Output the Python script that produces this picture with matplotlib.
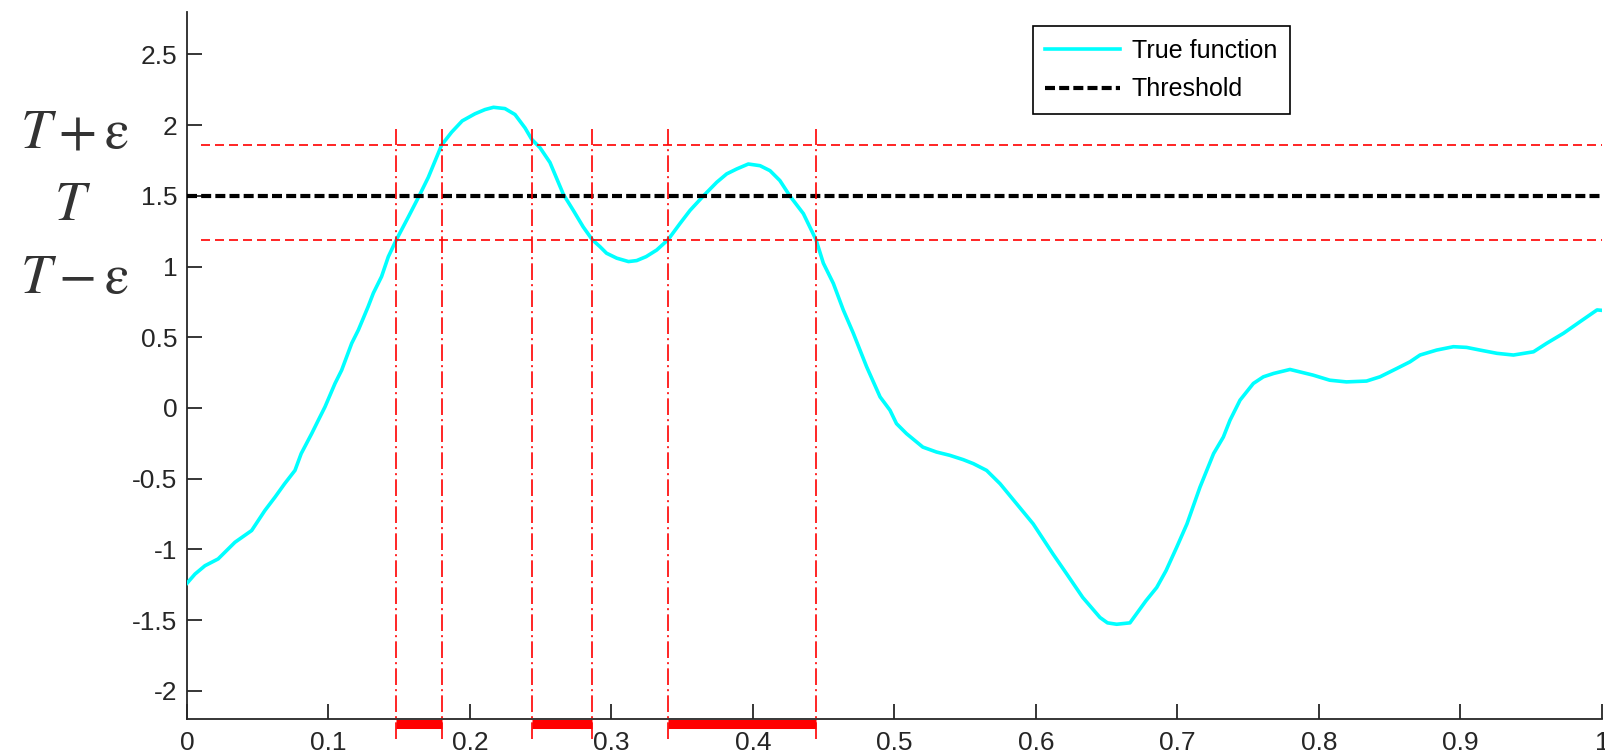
import matplotlib
matplotlib.use("Agg")
import matplotlib.pyplot as plt

# sampled true function
fx = [0.0, 0.00565, 0.0127, 0.022, 0.0339, 0.0457, 0.055, 0.0622, 0.069, 0.0763,
      0.0807, 0.0881, 0.0928, 0.0975, 0.1046, 0.1093, 0.1164, 0.1211, 0.128, 0.1317,
      0.1375, 0.1423, 0.148, 0.1564, 0.1636, 0.1705, 0.180, 0.187, 0.1945, 0.2035,
      0.2106, 0.2166, 0.2247, 0.2318, 0.2389, 0.2436, 0.2495, 0.2565, 0.266, 0.273,
      0.280, 0.2864, 0.2919, 0.2965, 0.3037, 0.312, 0.3178, 0.3245, 0.332, 0.340,
      0.3484, 0.3555, 0.365, 0.3744, 0.3814, 0.3885, 0.3967, 0.405, 0.412, 0.419,
      0.426, 0.4356, 0.4445, 0.4497, 0.4568, 0.4638, 0.4709, 0.4803, 0.4898, 0.4968,
      0.5014, 0.5085, 0.520, 0.5297, 0.539, 0.5486, 0.5557, 0.5651, 0.5746, 0.5863,
      0.598, 0.612, 0.6217, 0.633, 0.6452, 0.6505, 0.657, 0.6664, 0.6777, 0.6853,
      0.6919, 0.6994, 0.7067, 0.7159, 0.7255, 0.7324, 0.7371, 0.7442, 0.7536, 0.7607,
      0.768, 0.7795, 0.7958, 0.8076, 0.8194, 0.8336, 0.8431, 0.855, 0.8643, 0.8714,
      0.8831, 0.895, 0.9043, 0.9138, 0.9258, 0.9374, 0.9516, 0.9609, 0.9728, 0.9845,
      0.9965, 1.0]
fy = [-1.24, -1.175, -1.116, -1.068, -0.950, -0.867, -0.726, -0.631, -0.536, -0.442,
      -0.323, -0.182, -0.087, 0.007, 0.173, 0.267, 0.457, 0.551, 0.716, 0.812,
      0.929, 1.07, 1.19, 1.35, 1.49, 1.63, 1.86, 1.95, 2.03, 2.08,
      2.11, 2.126, 2.117, 2.075, 1.98, 1.9, 1.84, 1.736, 1.51, 1.397,
      1.28, 1.19, 1.14, 1.094, 1.059, 1.035, 1.042, 1.07, 1.117, 1.19,
      1.304, 1.397, 1.5, 1.596, 1.655, 1.69, 1.725, 1.713, 1.678, 1.608,
      1.5, 1.374, 1.19, 1.024, 0.88, 0.693, 0.528, 0.291, 0.078, -0.016,
      -0.111, -0.182, -0.277, -0.312, -0.335, -0.366, -0.394, -0.442, -0.536, -0.678,
      -0.82, -1.033, -1.174, -1.34, -1.482, -1.52, -1.53, -1.52, -1.364, -1.27,
      -1.151, -0.986, -0.82, -0.56, -0.323, -0.206, -0.087, 0.055, 0.173, 0.22,
      0.244, 0.272, 0.232, 0.196, 0.184, 0.19, 0.22, 0.279, 0.326, 0.374,
      0.409, 0.433, 0.428, 0.409, 0.386, 0.374, 0.397, 0.457, 0.528, 0.61,
      0.693, 0.69]

threshold = 1.5
upper = 1.86
lower = 1.19

# where the function crosses the band edges, and the intervals inside the band
cross_x = [0.148, 0.180, 0.2436, 0.2864, 0.340, 0.4445]
intervals = [(0.148, 0.180), (0.2436, 0.2864), (0.340, 0.4445)]

xticks = [0, 0.1, 0.2, 0.3, 0.4, 0.5, 0.6, 0.7, 0.8, 0.9, 1]
xlabels = ['0', '0.1', '0.2', '0.3', '0.4', '0.5', '0.6', '0.7', '0.8', '0.9', '1']
yticks = [-2, -1.5, -1, -0.5, 0, 0.5, 1, 1.5, 2, 2.5]
ylabels = ['-2', '-1.5', '-1', '-0.5', '0', '0.5', '1', '1.5', '2', '2.5']

side_labels = [r'$T+\mathrm{\varepsilon}$', r'$T$', r'$T-\mathrm{\varepsilon}$']

plt.rcParams['mathtext.fontset'] = 'stix'
plt.rcParams['font.family'] = 'Liberation Sans'

fig = plt.figure(figsize=(16.06, 7.55), dpi=100)
ax = fig.add_axes([187 / 1606, 36 / 755, 1415 / 1606, 707 / 755])

ax.plot(fx, fy, color='cyan', lw=2.6, label='True function', zorder=3)
ax.plot([0, 1], [threshold, threshold], color='black', lw=3, ls='--',
        dashes=(2.4, 1.0), label='Threshold', zorder=4)

for yy in (upper, lower):
    ax.plot([0.01, 1], [yy, yy], color='red', lw=1.2, ls='--', dashes=(5.4, 3.0),
            zorder=5)
for xx in cross_x:
    ax.plot([xx, xx], [-2.34, 1.97], color='red', lw=1.2,
            dashes=(10, 2.5, 1.2, 2.5), zorder=5, clip_on=False)
for a, b in intervals:
    ax.plot([a, b], [-2.235, -2.235], color='red', lw=6.5, solid_capstyle='butt',
            zorder=6, clip_on=False)

ax.set_xlim(0, 1)
ax.set_ylim(-2.2, 2.8)
ax.set_xticks(xticks)
ax.set_xticklabels(xlabels)
ax.set_yticks(yticks)
ax.set_yticklabels(ylabels)

for s in ('top', 'right'):
    ax.spines[s].set_visible(False)
for s in ('left', 'bottom'):
    ax.spines[s].set_color('#262626')
    ax.spines[s].set_linewidth(1.3)
ax.tick_params(axis='both', direction='in', length=11, width=1.3,
               colors='#262626', labelsize=19)
ax.tick_params(axis='x', pad=9)
ax.tick_params(axis='y', pad=7)

leg = ax.legend(loc='upper left', bbox_to_anchor=(1033 / 1606, 1 - 26 / 755),
                bbox_transform=fig.transFigure, borderaxespad=0, fontsize=18,
                handlelength=3.0, handletextpad=0.45, labelspacing=0.6,
                borderpad=0.5, fancybox=False, framealpha=1)
leg.get_frame().set_edgecolor('black')
leg.get_frame().set_linewidth(1.2)

fig.text(75 / 1606, 1 - 148 / 755, side_labels[0], fontsize=40, color='#333333',
         ha='center', va='baseline')
fig.text(73 / 1606, 1 - 220 / 755, side_labels[1], fontsize=40, color='#333333',
         ha='center', va='baseline')
fig.text(75 / 1606, 1 - 293 / 755, side_labels[2], fontsize=40, color='#333333',
         ha='center', va='baseline')

fig.savefig('out.png', dpi=100)
